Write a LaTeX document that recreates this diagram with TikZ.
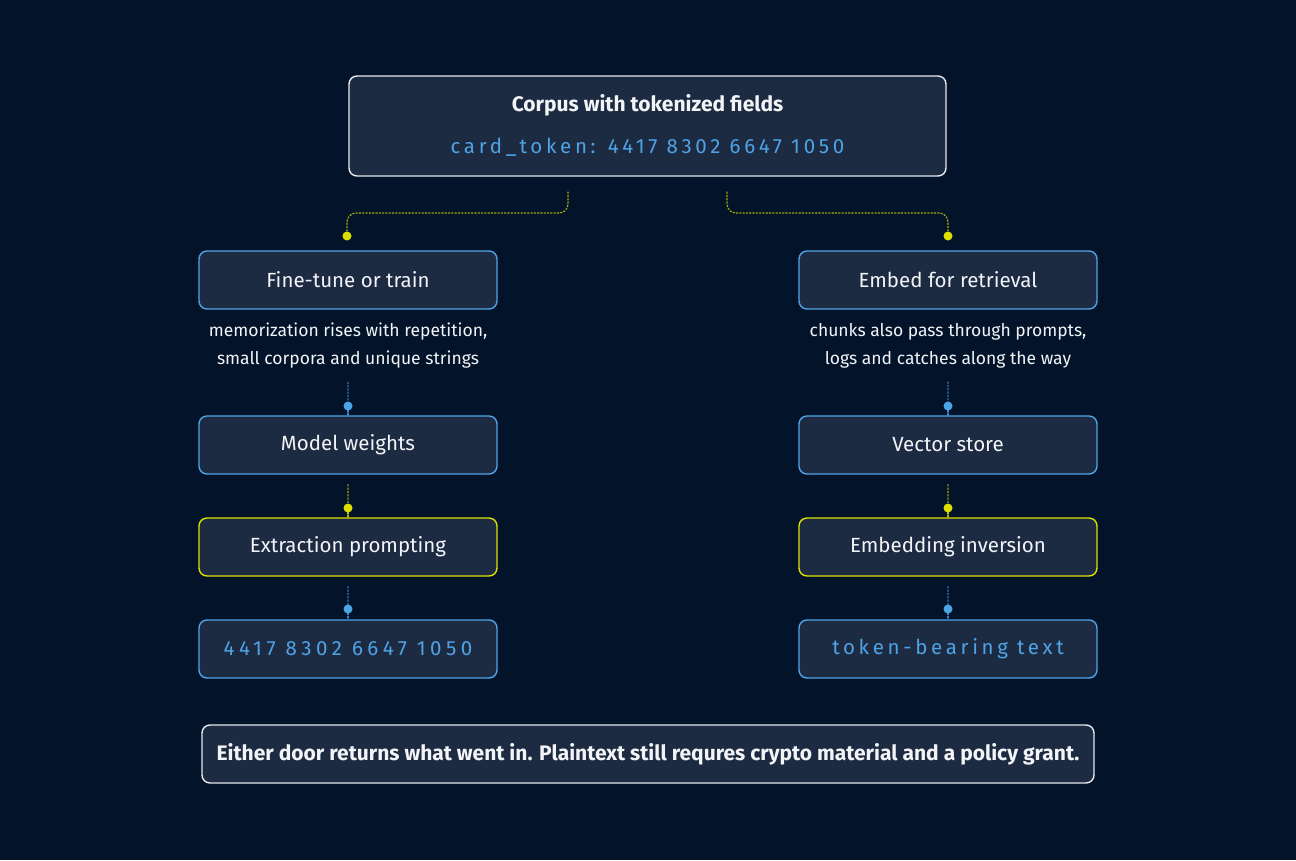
\documentclass[tikz,border=0pt]{standalone}
\usepackage{fontspec}
\setmainfont{Fira Sans}
\newfontfamily\spaced[LetterSpace=18]{Fira Sans}
\newfontfamily\spacedwide[LetterSpace=22]{Fira Sans}
\definecolor{bg}{HTML}{02132A}
\definecolor{boxfill}{HTML}{1D2B42}
\definecolor{bblue}{HTML}{4EA3E6}
\definecolor{byel}{HTML}{DCE000}
\definecolor{txt}{HTML}{F2F4F7}
\definecolor{wborder}{HTML}{E6E9EE}
\pgfdeclarelayer{back}
\pgfdeclarelayer{lines}
\pgfsetlayers{back,lines,main}
\tikzset{
  x=1pt,y=-1pt,
  card/.style={draw=bblue, line width=1.4pt, fill=boxfill, rounded corners=8pt,
    minimum width=298pt, minimum height=58pt, text=txt, font=\fontsize{20.5}{24}\selectfont, inner sep=0pt},
  hotcard/.style={card, draw=byel},
  codecard/.style={card, text=bblue, font=\spaced\fontsize{20.5}{24}\selectfont},
  note/.style={text=txt, font=\fontsize{17.5}{28}\selectfont, align=center},
  dotline/.style={dotted, line width=1.3pt, line cap=round},
  ydot/.style={circle, fill=byel, inner sep=0pt, minimum size=9pt},
  bdot/.style={circle, fill=bblue, inner sep=0pt, minimum size=9pt},
}
\begin{document}
\begin{tikzpicture}
\begin{pgfonlayer}{back}
\fill[bg] (0,0) rectangle (1296,860);
\end{pgfonlayer}
\useasboundingbox (0,0) rectangle (1296,860);

% top box
\node[draw=wborder, line width=1.4pt, fill=boxfill, rounded corners=8pt, minimum width=597pt, minimum height=100pt, inner sep=0pt] (top) at (647.5,126) {};
\node[text=txt, font=\bfseries\fontsize{21}{24}\selectfont] (title) at (647.5,105) {Corpus with tokenized fields};
\node[text=bblue, font=\spaced\fontsize{20.5}{24}\selectfont] (tok) at (647.5,147) {card\_token: 4417 8302 6647 1050};

% left column
\node[card] (ft) at (348,280) {Fine-tune or train};
\node[note] (ftn) at (348,346) {memorization rises with repetition,\\small corpora and unique strings};
\node[card] (mw) at (348,445) {Model weights};
\node[hotcard] (ep) at (348,547) {Extraction prompting};
\node[codecard, font=\spacedwide\fontsize{20.5}{24}\selectfont] (num) at (348,649) {4417 8302 6647 1050};

% right column
\node[card] (em) at (948,280) {Embed for retrieval};
\node[note] (emn) at (948,346) {chunks also pass through prompts,\\logs and catches along the way};
\node[card] (vs) at (948,445) {Vector store};
\node[hotcard] (ei) at (948,547) {Embedding inversion};
\node[codecard] (tbt) at (948,649) {token-bearing text};

% bottom box
\node[draw=wborder, line width=1.4pt, fill=boxfill, rounded corners=8pt, minimum width=892pt, minimum height=58pt, inner sep=0pt, text=txt, font=\bfseries\fontsize{21}{24}\selectfont] (foot) at (648,754) {Either door returns what went in. Plaintext still requres crypto material and a policy grant.};

% dots
\node[ydot] (d1) at (347,236) {};
\node[ydot] (d2) at (948,236) {};
\node[bdot] (d3) at (348,406) {};
\node[ydot] (d4) at (348,508) {};
\node[bdot] (d5) at (348,609) {};
\node[bdot] (d6) at (948,406) {};
\node[ydot] (d7) at (948,508) {};
\node[bdot] (d8) at (948,609) {};

\coordinate (s1) at (568,192);
\coordinate (s2) at (727,192);

\begin{pgfonlayer}{lines}
% top connectors
\draw[dotline, draw=byel!75!bg, rounded corners=9pt] (s1) -- (568,213) -- (347,213) -- (d1.center);
\draw[dotline, draw=byel!75!bg, rounded corners=9pt] (s2) -- (727,213) -- (948,213) -- (d2.center);

% vertical connectors
\foreach \a/\b/\c in {ftn/d3/bblue, mw/d4/byel, ep/d5/bblue, emn/d6/bblue, vs/d7/byel, ei/d8/bblue}{
  \draw[dotline, draw=\c!45!bg] ([yshift=-10pt]\a.south) -- ([yshift=-9pt]\b.center);
  \draw[dotline, draw=\c!85!bg] ([yshift=-9pt]\b.center) -- (\b.center);
}
\end{pgfonlayer}
\end{tikzpicture}
\end{document}
